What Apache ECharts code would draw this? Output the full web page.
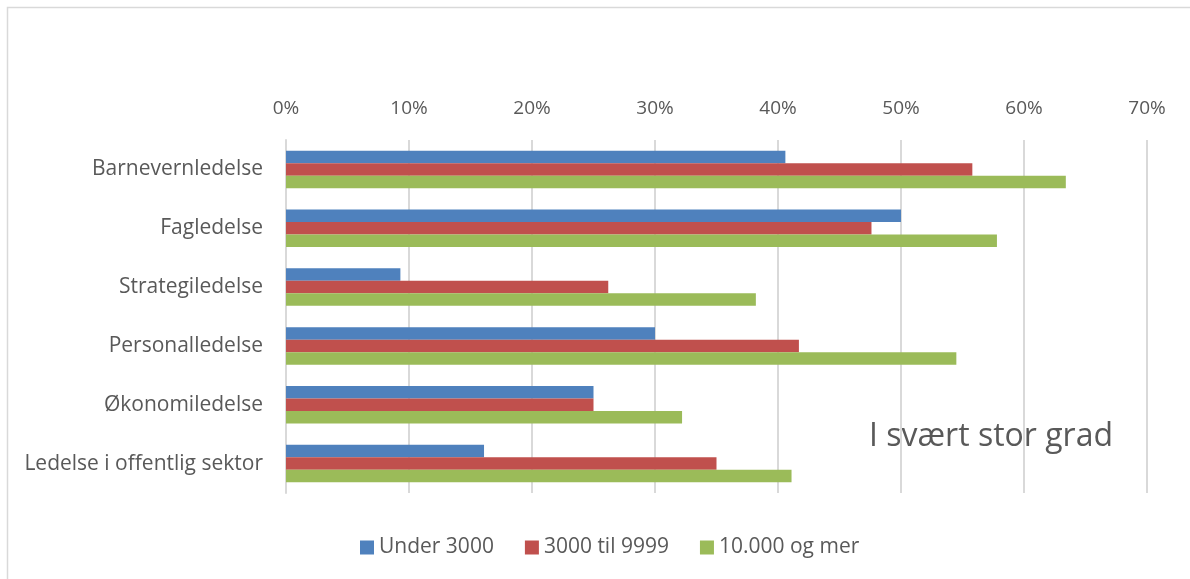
<!DOCTYPE html>
<html>
<head>
<meta charset="utf-8">
<script src="https://cdn.jsdelivr.net/npm/echarts@6/dist/echarts.min.js"></script>
<style>
html,body{margin:0;padding:0;background:#fff;}
#c{width:1190px;height:579px;}
</style>
</head>
<body>
<div id="c"></div>
<script>
const categories = ["Barnevernledelse","Fagledelse","Strategiledelse","Personalledelse","Økonomiledelse","Ledelse i offentlig sektor"];
const seriesNames = ["Under 3000","3000 til 9999","10.000 og mer"];
const under3000 = [0.406, 0.500, 0.093, 0.300, 0.250, 0.161];
const mid3000to9999 = [0.558, 0.476, 0.262, 0.417, 0.250, 0.350];
const over10000 = [0.634, 0.578, 0.382, 0.545, 0.322, 0.411];
const xTicks = [0, 0.1, 0.2, 0.3, 0.4, 0.5, 0.6, 0.7];
const annotation = "I svært stor grad";

const colors = ["#4F81BD","#C0504D","#9BBB59"];
const font = "Open Sans";
const textColor = "#595959";

const chart = echarts.init(document.getElementById('c'), null, {renderer:'canvas'});
const data = [under3000, mid3000to9999, over10000];
chart.setOption({
  animation:false,
  textStyle:{fontFamily:font},
  graphic:[
    {type:'rect', shape:{x:7.5,y:7.5,width:1300,height:700}, style:{fill:null, stroke:'#d9d9d9', lineWidth:1.5}, silent:true},
    {type:'text', left:869, top:421, style:{text:annotation, fontSize:32, fontFamily:font, fill:textColor}}
  ],
  grid:{left:286, right:43, top:140, bottom:86},
  legend:{
    top:532, left:355,
    itemWidth:14, itemHeight:14, itemGap:31,
    icon:'rect',
    textStyle:{fontSize:21, color:textColor, fontFamily:font},
    data:seriesNames
  },
  xAxis:{
    type:'value', position:'top', min:xTicks[0], max:xTicks[xTicks.length-1], interval:0.1,
    axisLine:{show:false}, axisTick:{show:false},
    splitLine:{lineStyle:{color:'#d9d9d9', width:2}},
    axisLabel:{margin:22, fontSize:19, color:textColor, fontFamily:font,
      formatter:v=>Math.round(v*100)+'%'}
  },
  yAxis:{
    type:'category', inverse:true, data:categories,
    axisLine:{show:true, lineStyle:{color:'#d9d9d9', width:2}},
    axisTick:{show:false},
    axisLabel:{margin:23, fontSize:21, color:textColor, fontFamily:font}
  },
  series: seriesNames.map((n,i)=>({
    name:n, type:'bar', data:data[i], barWidth:12.5, barGap:'0%',
    itemStyle:{color:colors[i]}
  }))
});
</script>
</body>
</html>
